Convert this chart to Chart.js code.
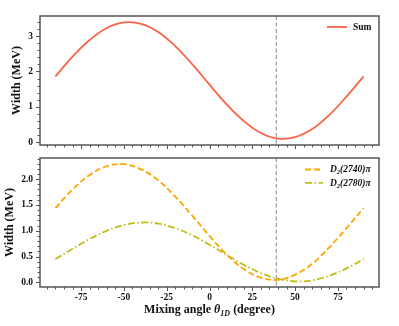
<!DOCTYPE html>
<html>
<head>
<meta charset="utf-8">
<script src="https://cdn.jsdelivr.net/npm/chart.js@4.4.1/dist/chart.umd.min.js"></script>
<style>
body { margin: 0; background: #fff; }
#wrap { position: relative; width: 399px; height: 326px; }
canvas { position: absolute; left: 0; }
#topChart { top: 0; }
#bottomChart { top: 150px; }
</style>
</head>
<body>
<div id="wrap">
  <canvas id="topChart" width="399" height="150"></canvas>
  <canvas id="bottomChart" width="399" height="176"></canvas>
</div>
<script>
// mixing angle (degree) and the widths (MeV)
const angles     = [-90, -80, -70, -60, -50, -40, -30, -20, -10, 0, 10, 20, 30, 40, 50, 60, 70, 80, 90];
const sumWidth   = [1.86, 2.42, 2.89, 3.23, 3.39, 3.35, 3.12, 2.72, 2.20, 1.63, 1.07, 0.60, 0.26, 0.10, 0.14, 0.37, 0.77, 1.29, 1.86];
const width2740  = [1.44, 1.80, 2.08, 2.25, 2.29, 2.19, 1.98, 1.66, 1.29, 0.90, 0.54, 0.26, 0.09, 0.05, 0.15, 0.36, 0.68, 1.05, 1.44];
const width2780  = [0.45, 0.65, 0.84, 1.00, 1.11, 1.16, 1.14, 1.05, 0.91, 0.73, 0.53, 0.34, 0.18, 0.07, 0.02, 0.04, 0.13, 0.27, 0.45];
const xTicks      = [-75, -50, -25, 0, 25, 50, 75];
const topYTicks   = [0, 1, 2, 3];
const botYTicks   = [0, 0.5, 1.0, 1.5, 2.0];
const mixAngle    = 39;

const FONT = "'Liberation Serif', 'DejaVu Serif', serif";
const AXIS = '#555';

function pts(vals) {
  return angles.map((a, i) => ({ x: a, y: vals[i] }));
}

function line(ctx, x1, y1, x2, y2) {
  ctx.beginPath(); ctx.moveTo(x1, y1); ctx.lineTo(x2, y2); ctx.stroke();
}

// frame, outward ticks (major+minor), dashed reference line and legend
function makePlugin(minorStepY, minorCountY, majorEvery, legend) {
  return {
    id: 'decor',
    beforeDatasetsDraw(chart) {
      const { ctx, chartArea: a, scales: { x } } = chart;
      const px = x.getPixelForValue(mixAngle);
      ctx.save();
      ctx.strokeStyle = '#888';
      ctx.lineWidth = 1;
      ctx.setLineDash([4, 2.5]);
      line(ctx, px, a.top, px, a.bottom);
      ctx.restore();
    },
    afterDraw(chart) {
      const { ctx, chartArea: a, scales: { x, y } } = chart;
      ctx.save();
      ctx.strokeStyle = AXIS;
      ctx.lineWidth = 1;
      for (let v = -95; v <= 95; v += 5) {
        const px = Math.round(x.getPixelForValue(v)) + 0.5;
        line(ctx, px, a.bottom, px, a.bottom + (xTicks.includes(v) ? 4 : 2.5));
      }
      for (let k = 0; k <= minorCountY; k++) {
        const py = Math.round(y.getPixelForValue(k * minorStepY)) + 0.5;
        line(ctx, a.left, py, a.left - (k % majorEvery === 0 ? 4 : 2.5), py);
      }
      ctx.lineWidth = 1.5;
      ctx.strokeRect(a.left, a.top, a.right - a.left, a.bottom - a.top);

      // legend
      chart.data.datasets.forEach((ds, i) => {
        const ly = legend.y + i * 13.4;
        ctx.strokeStyle = ds.borderColor;
        ctx.lineWidth = ds.borderWidth;
        ctx.setLineDash(ds.borderDash || []);
        line(ctx, legend.x, ly, legend.x + legend.len, ly);
        ctx.setLineDash([]);
        ctx.fillStyle = '#111';
        ctx.textBaseline = 'middle';
        let tx = legend.x + legend.len + legend.gap;
        const parts = ds.label.split('\u2082');
        if (parts.length === 1) {
          ctx.font = 'bold 9.5px ' + FONT;
          ctx.fillText(ds.label, tx, ly + 0.5);
        } else {
          ctx.font = 'italic bold 9.5px ' + FONT;
          ctx.fillText(parts[0], tx, ly + 0.5);
          tx += ctx.measureText(parts[0]).width;
          ctx.font = 'italic bold 6.5px ' + FONT;
          ctx.fillText('2', tx, ly + 3);
          tx += ctx.measureText('2').width;
          ctx.font = 'italic bold 9.5px ' + FONT;
          ctx.fillText(parts[1], tx, ly + 0.5);
        }
      });
      ctx.restore();

      if (legend.xTitle) {
        // x-axis title with italic theta and subscript
        const segs = [
          ['Mixing angle ', 'bold 12px ', 0],
          ['\u03b8', 'italic bold 12px ', 0],
          ['1D', 'italic bold 8px ', 3],
          [' (degree)', 'bold 12px ', 0]
        ];
        ctx.save();
        ctx.fillStyle = '#111';
        ctx.textBaseline = 'alphabetic';
        let w = 0;
        segs.forEach(s => { ctx.font = s[1] + FONT; w += ctx.measureText(s[0]).width; });
        let tx = (a.left + a.right) / 2 - w / 2;
        const by = 163;
        segs.forEach(s => {
          ctx.font = s[1] + FONT;
          ctx.fillText(s[0], tx, by + s[2]);
          tx += ctx.measureText(s[0]).width;
        });
        ctx.restore();
      }
    }
  };
}

function yAxis(min, max, ticks, digits, titlePad) {
  return {
    type: 'linear', min: min, max: max,
    afterFit: s => { s.width = 40; s.paddingTop = 0; s.paddingBottom = 0; },
    afterBuildTicks: s => { s.ticks = ticks.map(v => ({ value: v })); },
    grid: { display: false, drawTicks: false },
    border: { display: false },
    ticks: {
      padding: 7, color: '#111',
      font: { family: FONT, size: 9.5, weight: 'bold' },
      callback: v => v.toFixed(digits)
    },
    title: {
      display: true, text: 'Width (MeV)', color: '#111',
      font: { family: FONT, size: 12, weight: 'bold' },
      padding: titlePad
    }
  };
}

const common = {
  responsive: false,
  devicePixelRatio: 1,
  animation: false,
  plugins: { legend: { display: false }, tooltip: { enabled: false } },
  elements: { point: { radius: 0 }, line: { tension: 0.4 } }
};

new Chart(document.getElementById('topChart'), {
  type: 'line',
  data: {
    datasets: [{
      label: 'Sum', data: pts(sumWidth),
      borderColor: '#fa6448', borderWidth: 1.8, fill: false
    }]
  },
  options: Object.assign({}, common, {
    layout: { padding: { top: 16, right: 20, bottom: 5, left: 0 } },
    scales: {
      x: { type: 'linear', min: -99, max: 99, display: false },
      y: yAxis(-0.08, 3.57, topYTicks, 0, { top: 10, bottom: 0 })
    }
  }),
  plugins: [makePlugin(0.2, 17, 5, { x: 327, y: 27, len: 20, gap: 6 })]
});

new Chart(document.getElementById('bottomChart'), {
  type: 'line',
  data: {
    datasets: [{
      label: 'D\u2082(2740)\u03c0', data: pts(width2740),
      borderColor: '#ffa500', borderWidth: 1.8, borderDash: [6, 3], fill: false
    }, {
      label: 'D\u2082(2780)\u03c0', data: pts(width2780),
      borderColor: '#c0bd1a', borderWidth: 1.8, borderDash: [7, 2.5, 1.5, 2.5], fill: false
    }]
  },
  options: Object.assign({}, common, {
    layout: { padding: { top: 8, right: 20, bottom: 0, left: 0 } },
    scales: {
      x: {
        type: 'linear', min: -99, max: 99,
        afterFit: s => { s.height = 39; s.paddingLeft = 0; s.paddingRight = 0; },
        afterBuildTicks: s => { s.ticks = xTicks.map(v => ({ value: v })); },
        grid: { display: false, drawTicks: false },
        border: { display: false },
        ticks: { padding: 5, color: '#111', maxRotation: 0, font: { family: FONT, size: 9.5, weight: 'bold' } }
      },
      y: yAxis(-0.09, 2.41, botYTicks, 1, { top: 3, bottom: 0 })
    }
  }),
  plugins: [makePlugin(0.1, 24, 5, { x: 305, y: 19.5, len: 18, gap: 7, xTitle: true })]
});
</script>
</body>
</html>
